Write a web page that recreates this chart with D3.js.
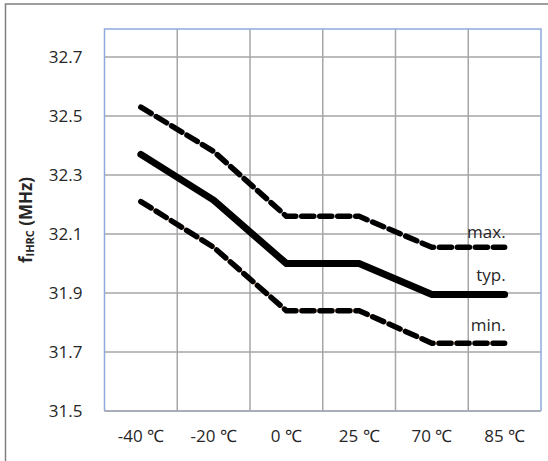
<!DOCTYPE html>
<html><head><meta charset="utf-8">
<script src="https://cdn.jsdelivr.net/npm/d3@7"></script>
<style>body{margin:0;background:#fff;}svg{display:block;}</style>
</head><body>
<script>
const categories = ["-40 ℃","-20 ℃","0 ℃","25 ℃","70 ℃","85 ℃"];
const maxVals = [32.53, 32.38, 32.16, 32.16, 32.055, 32.055];
const typVals = [32.37, 32.215, 32.0, 32.0, 31.895, 31.895];
const minVals = [32.21, 32.055, 31.84, 31.84, 31.73, 31.73];
const yTicks = [31.5, 31.7, 31.9, 32.1, 32.3, 32.5, 32.7];
const yTickLabels = ["31.5","31.7","31.9","32.1","32.3","32.5","32.7"];

const W = 548, H = 461;
const FONT = "Open Sans, Liberation Sans, sans-serif";
const svg = d3.select("body").append("svg").attr("width", W).attr("height", H);
const L = 104.5, R = 541, T = 29, B = 411;

// outer frame
svg.append("rect").attr("x",5.5).attr("y",4).attr("width",W+10).attr("height",H+10)
  .attr("fill","none").attr("stroke","#7f7f7f").attr("stroke-width",1.5);

const x = d3.scaleBand().domain(categories).range([L, R]).padding(0);
const y = d3.scaleLinear().domain([31.5, 32.795]).range([B, T]);

// grid: horizontal
const g = svg.append("g");
g.selectAll(".hg").data(yTicks).join("line")
  .attr("x1",L).attr("x2",R).attr("y1",d=>y(d)).attr("y2",d=>y(d))
  .attr("stroke","#a6a6a6").attr("stroke-width",1.5);
// vertical gridlines at band edges
const edges = categories.slice(1).map(c=>x(c));
g.selectAll(".vg").data(edges).join("line")
  .attr("x1",d=>d).attr("x2",d=>d).attr("y1",T).attr("y2",B)
  .attr("stroke","#a6a6a6").attr("stroke-width",1.5);

// plot border
svg.append("path").attr("d",`M${L},${B}V${T}H${R}V${B}`).attr("fill","none")
  .attr("stroke","#8faadc").attr("stroke-width",1.5);
svg.append("line").attr("x1",L).attr("x2",R).attr("y1",B).attr("y2",B)
  .attr("stroke","#a3a9b8").attr("stroke-width",1.5);

// y axis labels
const yAxis = d3.axisLeft(y).tickValues(yTicks).tickFormat((d,i)=>yTickLabels[i]).tickSize(0).tickPadding(22);
const ya = svg.append("g").attr("transform",`translate(${L},0)`).call(yAxis);
ya.select(".domain").remove();
ya.selectAll("text").attr("font-family",FONT).attr("font-size",17).attr("fill","#262626");

// x axis labels
const xAxis = d3.axisBottom(x).tickSize(0).tickPadding(19);
const xa = svg.append("g").attr("transform",`translate(0,${B})`).call(xAxis);
xa.select(".domain").remove();
xa.selectAll("text").attr("font-family",FONT).attr("font-size",17).attr("fill","#262626");

// y title
const yt = svg.append("text").attr("transform","translate(32,220) rotate(-90)")
  .attr("text-anchor","middle").attr("font-family",FONT)
  .attr("font-weight","bold").attr("font-size",17).attr("fill","#262626");
yt.append("tspan").text("f");
yt.append("tspan").attr("font-size",11).attr("dy",2).text("IHRC");
yt.append("tspan").attr("dy",-2).text(" (MHz)");

const line = d3.line().x((d,i)=>x(categories[i]) + x.bandwidth()/2).y(d=>y(d));

// max
svg.append("path").datum(maxVals).attr("d",line).attr("fill","none")
  .attr("stroke","#c9daf0").attr("stroke-width",3);
svg.append("path").datum(maxVals).attr("d",line).attr("fill","none")
  .attr("stroke","#000").attr("stroke-width",5.5).attr("stroke-dasharray","12,6").attr("stroke-linecap","round");
// min
svg.append("path").datum(minVals).attr("d",line).attr("fill","none")
  .attr("stroke","#f8cbad").attr("stroke-width",3);
svg.append("path").datum(minVals).attr("d",line).attr("fill","none")
  .attr("stroke","#000").attr("stroke-width",5.5).attr("stroke-dasharray","12,6").attr("stroke-linecap","round");
// typ
svg.append("path").datum(typVals).attr("d",line).attr("fill","none")
  .attr("stroke","#000").attr("stroke-width",7).attr("stroke-linejoin","round").attr("stroke-linecap","round");

// series labels
const lastX = x(categories[5]) + x.bandwidth()/2 + 1;
const labels = [["max.", maxVals[5], -9],["typ.", typVals[5], -13],["min.", minVals[5], -12]];
svg.selectAll(".sl").data(labels).join("text")
  .attr("x",lastX).attr("y",d=>y(d[1])+d[2]).attr("text-anchor","end")
  .attr("font-family",FONT).attr("font-size",17).attr("fill","#262626")
  .text(d=>d[0]);
</script>
</body></html>
